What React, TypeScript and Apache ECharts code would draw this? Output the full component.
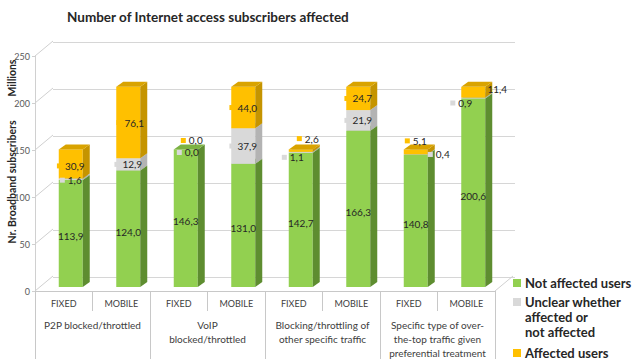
import React, { useEffect, useRef } from "react";
import * as echarts from "echarts";

const categories = ["FIXED", "MOBILE", "FIXED", "MOBILE", "FIXED", "MOBILE", "FIXED", "MOBILE"];
const groups = [
  "P2P blocked/throttled",
  "VoIP\nblocked/throttled",
  "Blocking/throttling of\nother specific traffic",
  "Specific type of over-\nthe-top traffic given\npreferential treatment",
];
const seriesNames = ["Not affected users", "Unclear whether\naffected or\nnot affected", "Affected users"];
const notAffected = [113.9, 124.0, 146.3, 131.0, 142.7, 166.3, 140.8, 200.6];
const unclear = [1.6, 12.9, 0.0, 37.9, 1.1, 21.9, 0.4, 0.9];
const affected = [30.9, 76.1, 0.0, 44.0, 2.6, 24.7, 5.1, 11.4];
const yTicks = [0, 50, 100, 150, 200, 250];

const layers = [notAffected, unclear, affected];
const faceColors = [
  { front: "#92D050", side: "#5E8D30", top: "#7CB243" },
  { front: "#D9D9D9", side: "#B3B3B3", top: "#C6C6C6" },
  { front: "#FFC000", side: "#C59400", top: "#D9A300" },
];
// label nudges per layer / bar [dx, dy]
const labelOffsets = [
  [[0, 3], [0, 3], [0, 3], [0, 3], [0, 3], [0, 3], [0, 3], [0, 3]],
  [[0, 1], [0, 0], [2, 3], [0, 0], [-8, 5], [0, 0], [23, 0], [-12, 5]],
  [[0, 2], [2, 0], [6, -9], [0, 0], [7, -12], [0, 0], [0, -11], [20, -3]],
];

const FONT = "Lato";
const fmt = (v: number) => v.toFixed(1).replace(".", ",");

export default function App() {
  const ref = useRef<HTMLDivElement>(null);
  useEffect(() => {
    document.body.style.margin = "0";
    if (!ref.current) return;
    const chart = echarts.init(ref.current, null, { renderer: "svg" });

    const bases = layers.map((_, k) =>
      layers[0].map((_, i) => {
        let s = 0;
        for (let j = 0; j < k; j++) s += layers[j][i];
        return s;
      })
    );
    const labelItems: { k: number; i: number; center: number; text: string }[] = [];
    layers.forEach((arr, k) =>
      arr.forEach((v, i) => labelItems.push({ k, i, center: bases[k][i] + v / 2, text: fmt(v) }))
    );

    const depthX = 7;
    const depthY = -5;
    const barW = 24;

    const barSeries = layers.map((arr, k) => ({
      type: "custom",
      name: seriesNames[k],
      xAxisIndex: 0,
      yAxisIndex: 0,
      z: 2 + k,
      encode: { x: 0, y: 1 },
      data: arr.map((v, i) => [i, bases[k][i], v]),
      renderItem: (params: any, api: any) => {
        const i = api.value(0);
        const base = api.value(1);
        const v = api.value(2);
        if (!(v > 0)) return { type: "group", children: [] };
        const p0 = api.coord([i, base]);
        const p1 = api.coord([i, base + v]);
        const cx = p0[0];
        const y0 = p0[1];
        const y1 = p1[1];
        const x0 = cx - barW / 2;
        const x1 = cx + barW / 2;
        const c = faceColors[k];
        return {
          type: "group",
          children: [
            { type: "rect", shape: { x: x0, y: y1, width: barW, height: y0 - y1 }, style: { fill: c.front } },
            {
              type: "polygon",
              shape: { points: [[x1, y0], [x1 + depthX, y0 + depthY], [x1 + depthX, y1 + depthY], [x1, y1]] },
              style: { fill: c.side },
            },
            {
              type: "polygon",
              shape: { points: [[x0, y1], [x1, y1], [x1 + depthX, y1 + depthY], [x0 + depthX, y1 + depthY]] },
              style: { fill: c.top },
            },
          ],
        };
      },
    }));

    const labelSeries = {
      type: "custom",
      xAxisIndex: 0,
      yAxisIndex: 0,
      z: 10,
      encode: { x: 0, y: 1 },
      data: labelItems.map((d) => [d.i, d.center]),
      renderItem: (params: any, api: any) => {
        const it = labelItems[params.dataIndex];
        const p = api.coord([it.i, it.center]);
        const off = labelOffsets[it.k][it.i];
        return {
          type: "text",
          x: p[0] + off[0],
          y: p[1] + off[1],
          style: {
            text: it.k === 0 ? it.text : `{m|}{t|${it.text}}`,
            rich: {
              m: { width: 5, height: 5, backgroundColor: faceColors[it.k].front },
              t: { padding: [0, 0, 0, 3], fontSize: 10, fontFamily: FONT, fill: "#262626", lineHeight: 10 },
            },
            fontSize: 10,
            lineHeight: 10,
            fontFamily: FONT,
            fill: "#262626",
            align: "center",
            verticalAlign: "middle",
          },
        };
      },
    };

    const wallSeries = {
      type: "custom",
      xAxisIndex: 2,
      yAxisIndex: 2,
      z: 1,
      data: yTicks.map((v) => [0, v]),
      renderItem: (params: any, api: any) => {
        const v = api.value(1);
        const y = api.coord([0, v])[1];
        const cs = params.coordSys;
        const children: any[] = [
          { type: "line", shape: { x1: cs.x, y1: y, x2: cs.x + 18, y2: y - 15 }, style: { stroke: "#D0D0D0", lineWidth: 1 } },
        ];
        if (v === 0) {
          children.push({
            type: "line",
            shape: { x1: cs.x + cs.width, y1: y, x2: cs.x + cs.width + 18, y2: y - 15 },
            style: { stroke: "#D0D0D0", lineWidth: 1 },
          });
        }
        return { type: "group", children };
      },
    };

    const legendY = [283, 302, 353];
    const legendGraphics: any[] = [];
    seriesNames.forEach((name, k) => {
      legendGraphics.push({
        type: "rect",
        left: 513,
        top: legendY[k] - 4,
        shape: { width: 8, height: 8 },
        style: { fill: faceColors[k].front },
      });
      legendGraphics.push({
        type: "text",
        left: 525,
        top: legendY[k] - 8,
        style: {
          text: name,
          font: `bold 13px ${FONT}`,
          fill: "#262626",
          lineHeight: 15,
        },
      });
    });

    chart.setOption({
      animation: false,
      backgroundColor: "#ffffff",
      title: {
        text: "Number of Internet access subscribers affected",
        left: 62,
        top: 5,
        textStyle: { fontSize: 13.5, fontWeight: "bold", fontFamily: FONT, color: "#262626" },
      },
      grid: [
        { left: 42, width: 460, top: 52, height: 235 },
        { left: 53, width: 462, top: 42, height: 235 },
        { left: 35, width: 460, top: 56, height: 236 },
      ],
      xAxis: [
        { type: "category", gridIndex: 0, data: categories, show: false },
        { type: "category", gridIndex: 1, data: categories, show: false },
        {
          type: "category",
          gridIndex: 2,
          data: categories,
          position: "bottom",
          axisLine: { show: true, lineStyle: { color: "#C8C8C8" } },
          axisTick: { show: true, length: 20, interval: 0, lineStyle: { color: "#C8C8C8" } },
          axisLabel: { interval: 0, fontSize: 9, fontFamily: FONT, color: "#404040", margin: 8 },
        },
        {
          type: "category",
          gridIndex: 2,
          data: groups,
          position: "bottom",
          axisLine: { show: false },
          axisTick: { show: true, length: 68, interval: 0, lineStyle: { color: "#C8C8C8" } },
          axisLabel: {
            interval: 0,
            fontSize: 10,
            lineHeight: 14,
            fontFamily: FONT,
            color: "#404040",
            margin: 27,
            verticalAlign: "top",
          },
        },
      ],
      yAxis: [
        { type: "value", gridIndex: 0, min: 0, max: 250, interval: 50, show: false },
        {
          type: "value",
          gridIndex: 1,
          min: 0,
          max: 250,
          interval: 50,
          axisLine: { show: false },
          axisTick: { show: false },
          axisLabel: { show: false },
          splitLine: { show: true, lineStyle: { color: "#D6D6D6", width: 1 } },
        },
        {
          type: "value",
          gridIndex: 2,
          min: 0,
          max: 250,
          interval: 50,
          axisLine: { show: true, lineStyle: { color: "#D0D0D0" } },
          axisTick: { show: true, length: 3, lineStyle: { color: "#D0D0D0" } },
          axisLabel: { fontSize: 9, fontFamily: FONT, color: "#595959", margin: 5 },
          splitLine: { show: false },
        },
      ],
      graphic: [
        {
          type: "text",
          x: 12,
          y: 182,
          rotation: Math.PI / 2,
          style: {
            text: "Nr. Broadband subscribers",
            font: `bold 10.5px ${FONT}`,
            fill: "#262626",
            align: "center",
            verticalAlign: "middle",
          },
        },
        {
          type: "text",
          x: 12,
          y: 78,
          rotation: Math.PI / 2,
          style: {
            text: "Millions",
            font: `bold 10.5px ${FONT}`,
            fill: "#262626",
            align: "center",
            verticalAlign: "middle",
          },
        },
        ...legendGraphics,
      ],
      series: [wallSeries, ...barSeries, labelSeries],
    });
    return () => chart.dispose();
  }, []);
  return <div ref={ref} style={{ width: 640, height: 360 }} />;
}
